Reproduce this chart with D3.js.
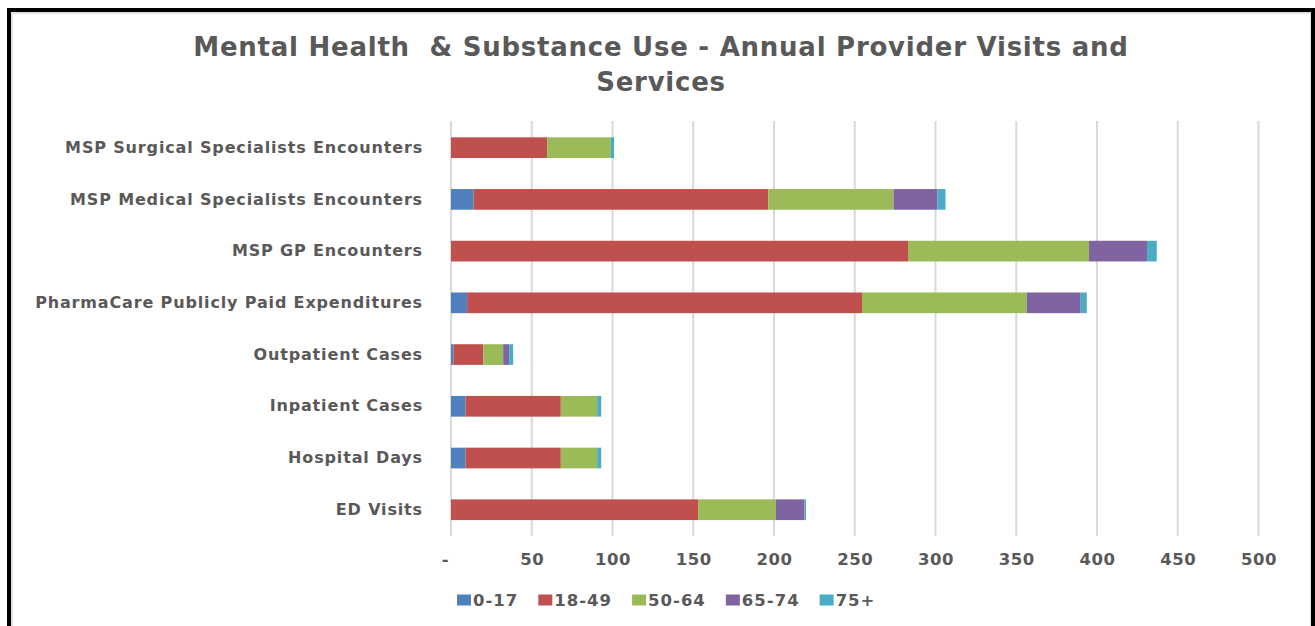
<!DOCTYPE html>
<html>
<head>
<meta charset="utf-8">
<script src="https://cdn.jsdelivr.net/npm/d3@7"></script>
<style>
  html, body { margin: 0; padding: 0; background: #fff; }
  svg text { font-family: "DejaVu Sans", sans-serif; font-weight: bold; fill: #595959; }
</style>
</head>
<body>
<svg id="chart" width="1315" height="626"></svg>
<script>
// Service categories, top to bottom
const categories = [
  "MSP Surgical Specialists Encounters",
  "MSP Medical Specialists Encounters",
  "MSP GP Encounters",
  "PharmaCare Publicly Paid Expenditures",
  "Outpatient Cases",
  "Inpatient Cases",
  "Hospital Days",
  "ED Visits"
];

// Age groups (stack order, left to right)
const ageGroups = ["0-17", "18-49", "50-64", "65-74", "75+"];

// Values per age group, in category order
const age0to17  = [0,    14,    0,     10,    1.5, 9,    9,    0];
const age18to49 = [59.5, 182.5, 283,   244.5, 18.5, 59,  59,   153];
const age50to64 = [39.5, 77.5,  112,   102,   12.3, 22.5, 22.5, 48.2];
const age65to74 = [0,    27.2,  36,    33.4,  3.7, 0,    0,    17.7];
const age75plus = [2,    5,     6,     3.8,   2.5, 2.5,  2.5,  0.9];

const xTicks = [0, 50, 100, 150, 200, 250, 300, 350, 400, 450, 500];
const colors = ["#4F81BD", "#C0504D", "#9BBB59", "#8064A2", "#4BACC6"];

const seriesValues = [age0to17, age18to49, age50to64, age65to74, age75plus];
const rows = categories.map((c, i) => {
  const r = { category: c };
  ageGroups.forEach((g, k) => { r[g] = seriesValues[k][i]; });
  return r;
});

const svg = d3.select("#chart");

// Outer frame
svg.append("rect")
  .attr("x", 12).attr("y", 13).attr("width", 1299).attr("height", 640)
  .attr("fill", "none").attr("stroke", "#d9d9d9").attr("stroke-width", 1.5);
svg.append("path")
  .attr("d", "M9,640 V10 H1313 V640")
  .attr("fill", "none").attr("stroke", "#000").attr("stroke-width", 4);

// Title
const title = svg.append("text")
  .attr("text-anchor", "middle")
  .style("font-size", "26px")
  .style("letter-spacing", "0.75px")
  .style("white-space", "pre");
title.append("tspan").attr("x", 661).attr("y", 56)
  .text("Mental Health  & Substance Use - Annual Provider Visits and");
title.append("tspan").attr("x", 661).attr("y", 91)
  .text("Services");

const x = d3.scaleLinear().domain([0, 500]).range([451, 1258.5]);
const y = d3.scaleBand().domain(categories).range([121.8, 535.6]).paddingInner(0.6).paddingOuter(0.3);

// Vertical gridlines
svg.append("g")
  .selectAll("line")
  .data(xTicks)
  .join("line")
  .attr("x1", d => x(d)).attr("x2", d => x(d))
  .attr("y1", 121).attr("y2", 536)
  .attr("stroke", "#d9d9d9").attr("stroke-width", 2);

// Stacked bars
const stacked = d3.stack().keys(ageGroups)(rows);
const color = d3.scaleOrdinal().domain(ageGroups).range(colors);

svg.append("g")
  .selectAll("g")
  .data(stacked)
  .join("g")
  .attr("fill", d => color(d.key))
  .selectAll("rect")
  .data(d => d.filter(s => s[1] - s[0] > 0))
  .join("rect")
  .attr("x", d => x(d[0]))
  .attr("y", d => y(d.data.category))
  .attr("width", d => x(d[1]) - x(d[0]))
  .attr("height", y.bandwidth());

// Category axis labels
const yAxis = svg.append("g")
  .attr("transform", "translate(451,0)")
  .call(d3.axisLeft(y).tickSize(0).tickPadding(28));
yAxis.select(".domain").remove();
yAxis.selectAll("text")
  .style("font-size", "16px")
  .style("letter-spacing", "0.85px")
  .attr("fill", "#595959");

// Value axis labels
const xAxis = svg.append("g")
  .attr("transform", "translate(0,536)")
  .call(d3.axisBottom(x).tickValues(xTicks).tickSize(0).tickPadding(17)
    .tickFormat(d => d === 0 ? "-" : d3.format("d")(d)));
xAxis.select(".domain").remove();
xAxis.selectAll("text")
  .style("font-size", "16.5px")
  .style("letter-spacing", "0.5px")
  .attr("fill", "#595959")
  .attr("dx", d => d === 0 ? -6 : 0);

// Legend
const legend = svg.append("g").attr("transform", "translate(457,600)");
let lx = 0;
ageGroups.forEach((g, i) => {
  const item = legend.append("g").attr("transform", `translate(${lx},0)`);
  item.append("rect").attr("x", 0).attr("y", -5.5).attr("width", 14).attr("height", 11)
    .attr("fill", colors[i]);
  const t = item.append("text").attr("x", 16).attr("y", 6)
    .style("font-size", "16.5px").style("letter-spacing", "1px").text(g);
  lx += 16 + t.node().getComputedTextLength() + 20;
});
</script>
</body>
</html>
